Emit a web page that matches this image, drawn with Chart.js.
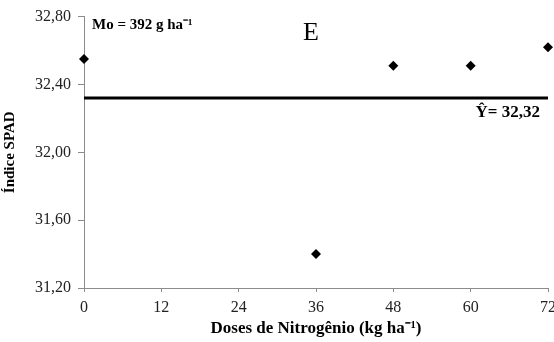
<!DOCTYPE html>
<html>
<head>
<meta charset="utf-8">
<script src="https://cdn.jsdelivr.net/npm/chart.js@4.4.1/dist/chart.umd.min.js"></script>
<style>
    html, body { margin: 0; padding: 0; background: #fff; }
    #wrap { width: 554px; height: 342px; position: relative; }
</style>
</head>
<body>
<div id="wrap"><canvas id="spadChart"></canvas></div>
<script>
// Doses de N (kg/ha) e leituras SPAD medias
const doses = [0, 36, 48, 60, 72];
const spadValues = [32.55, 31.40, 32.51, 32.51, 32.62];
const meanSpad = 32.32;
const xTicks = [0, 12, 24, 36, 48, 60, 72];
const yTicks = [31.2, 31.6, 32.0, 32.4, 32.8];

const serif = "'Liberation Serif', 'Times New Roman', serif";
const axisGray = '#8c8c8c';

const points = doses.map((d, i) => ({ x: d, y: spadValues[i] }));
const meanLine = [
    { x: xTicks[0], y: meanSpad },
    { x: xTicks[xTicks.length - 1], y: meanSpad },
];

function fmt(v) {
    return v.toFixed(2).replace('.', ',');
}

// textos livres sobre a area do grafico
const labelsPlugin = {
    id: 'labelsPlugin',
    afterDatasetsDraw(chart) {
        const { ctx, scales } = chart;
        const x = scales.x;
        const y = scales.y;
        ctx.save();
        ctx.fillStyle = '#000';
        ctx.textBaseline = 'alphabetic';

        ctx.font = 'bold 15px ' + serif;
        ctx.textAlign = 'left';
        ctx.fillText('Mo = 392 g ha⁻¹', x.getPixelForValue(0) + 8, 29);

        ctx.font = '26px ' + serif;
        ctx.textAlign = 'center';
        ctx.fillText('E', 311, 40);

        ctx.font = 'bold 17px ' + serif;
        ctx.textAlign = 'right';
        ctx.fillText('Ŷ= ' + fmt(meanSpad), x.getPixelForValue(72) - 8, y.getPixelForValue(meanSpad) + 19);
        ctx.restore();
    },
};

const ctx = document.getElementById('spadChart').getContext('2d');
new Chart(ctx, {
    type: 'scatter',
    data: {
        datasets: [
            {
                type: 'line',
                label: 'Media',
                data: meanLine,
                borderColor: '#000',
                borderWidth: 3,
                pointRadius: 0,
                fill: false,
                clip: false,
            },
            {
                type: 'scatter',
                label: 'SPAD',
                data: points,
                pointStyle: 'rectRot',
                pointRadius: 5,
                backgroundColor: '#000',
                borderColor: '#000',
                borderWidth: 0,
                clip: false,
            },
        ],
    },
    options: {
        responsive: true,
        maintainAspectRatio: false,
        animation: false,
        layout: { padding: { top: 16, right: 6, left: 0, bottom: 0 } },
        plugins: {
            legend: { display: false },
            tooltip: { enabled: false },
        },
        scales: {
            x: {
                type: 'linear',
                min: 0,
                max: 72,
                afterBuildTicks(axis) {
                    axis.ticks = xTicks.map((v) => ({ value: v }));
                },
                afterFit(axis) {
                    axis.height = 54;
                    // deixa o rotulo "72" encostar na borda
                    axis.paddingRight = 0;
                },
                grid: {
                    drawOnChartArea: false,
                    drawTicks: true,
                    tickLength: 4,
                    color: axisGray,
                },
                border: { display: true, color: axisGray, width: 1 },
                ticks: {
                    color: '#222',
                    padding: 6,
                    maxRotation: 0,
                    font: { family: serif, size: 16 },
                },
                title: {
                    display: true,
                    text: 'Doses de Nitrogênio (kg ha⁻¹)',
                    color: '#000',
                    font: { family: serif, size: 17, weight: 'bold' },
                    padding: { top: 0, bottom: 3 },
                },
            },
            y: {
                min: 31.2,
                max: 32.8,
                afterBuildTicks(axis) {
                    axis.ticks = yTicks.map((v) => ({ value: v }));
                },
                afterFit(axis) {
                    axis.width = 84;
                },
                grid: {
                    drawOnChartArea: false,
                    drawTicks: true,
                    tickLength: 6,
                    color: axisGray,
                },
                border: { display: true, color: axisGray, width: 1 },
                ticks: {
                    color: '#222',
                    padding: 7,
                    font: { family: serif, size: 16 },
                    callback: (v) => fmt(v),
                },
                title: {
                    display: true,
                    text: 'Índice SPAD',
                    color: '#000',
                    font: { family: serif, size: 15, weight: 'bold' },
                    padding: { top: 1, bottom: 0 },
                },
            },
        },
    },
    plugins: [labelsPlugin],
});
</script>
</body>
</html>
